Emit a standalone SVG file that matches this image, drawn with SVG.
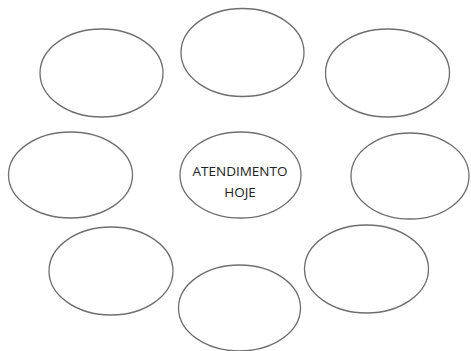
<svg xmlns="http://www.w3.org/2000/svg" width="471" height="351" viewBox="0 0 471 351">
<style>
.n ellipse{fill:#fff;stroke:#6e6e6e;stroke-width:1.3}
.t{font-family:"Open Sans","Liberation Sans",sans-serif;font-size:13.5px;fill:#222;text-anchor:middle}
</style>
<rect width="471" height="351" fill="#fff"/>
<g id="connectors"/>
<g id="n-top-left" class="n"><ellipse cx="101.5" cy="73" rx="61.5" ry="44"/></g>
<g id="n-top" class="n"><ellipse cx="242.5" cy="52.5" rx="61.5" ry="44"/></g>
<g id="n-top-right" class="n"><ellipse cx="387.5" cy="73" rx="62" ry="44"/></g>
<g id="n-left" class="n"><ellipse cx="70.5" cy="175" rx="62" ry="43"/></g>
<g id="n-center" class="n"><ellipse cx="240.5" cy="175" rx="60.5" ry="43"/>
<text class="t" x="240" y="176">ATENDIMENTO</text>
<text class="t" x="240" y="197">HOJE</text></g>
<g id="n-right" class="n"><ellipse cx="410" cy="176" rx="59" ry="43"/></g>
<g id="n-bottom-left" class="n"><ellipse cx="111" cy="271" rx="62" ry="44"/></g>
<g id="n-bottom" class="n"><ellipse cx="239.5" cy="308" rx="61" ry="43"/></g>
<g id="n-bottom-right" class="n"><ellipse cx="366.5" cy="269" rx="62" ry="44"/></g>
</svg>
